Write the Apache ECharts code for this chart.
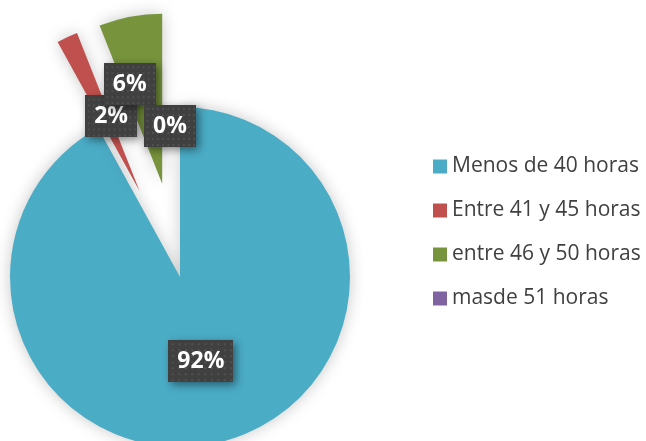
<!DOCTYPE html>
<html><head><meta charset="utf-8">
<script src="https://cdn.jsdelivr.net/npm/echarts@6/dist/echarts.min.js"></script>
<style>html,body{margin:0;padding:0;background:#fff}#c{width:646px;height:441px}</style>
</head><body><div id="c"></div>
<script>
const categories = ['Menos de 40 horas', 'Entre 41 y 45 horas', 'entre 46 y 50 horas', 'masde 51 horas'];
const values = [92, 2, 6, 0];
const colors = ['#4BACC6', '#C0504D', '#77933C', '#8064A2'];
const exploded = [false, true, true, true];
const labelShift = [[-1, -1], [9, 5], [-16, -13], [-10, 32]];

// dotted texture for the label boxes
const tex = document.createElement('canvas');
tex.width = 60; tex.height = 42;
const g = tex.getContext('2d');
g.fillStyle = '#404040'; g.fillRect(0, 0, 60, 42);
g.fillStyle = '#515151';
for (let y = 3; y < 42; y += 6) for (let x = 3; x < 60; x += 6) g.fillRect(x, y, 2, 2);

const chart = echarts.init(document.getElementById('c'));
chart.setOption({
  backgroundColor: '#ffffff',
  animation: false,
  color: colors,
  legend: {
    orient: 'vertical',
    left: 433,
    top: 156,
    padding: 0,
    itemWidth: 14,
    itemHeight: 14,
    itemGap: 23,
    icon: 'rect',
    textStyle: { color: '#404040', fontSize: 21, fontFamily: 'Open Sans' },
    data: categories
  },
  series: [{
    type: 'pie',
    center: [180, 277],
    radius: 170,
    startAngle: 90,
    clockwise: true,
    selectedMode: 'multiple',
    selectedOffset: 95,
    avoidLabelOverlap: false,
    minShowLabelAngle: 0,
    itemStyle: { shadowBlur: 16, shadowColor: 'rgba(0,0,0,0.22)' },
    label: {
      show: true,
      position: 'inside',
      formatter: p => Math.round(p.percent) + '%',
      color: '#ffffff',
      fontSize: 23,
      fontWeight: 'bold',
      fontFamily: 'Open Sans',
      backgroundColor: { image: tex },
      padding: [10, 9, 9, 9],
      shadowBlur: 8,
      shadowColor: 'rgba(0,0,0,0.45)',
      shadowOffsetX: 3,
      shadowOffsetY: 3
    },
    labelLine: { show: false },
    labelLayout: p => ({ dx: labelShift[p.dataIndex][0], dy: labelShift[p.dataIndex][1], hideOverlap: false, moveOverlap: null }),
    data: categories.map((c, i) => ({ name: c, value: values[i], selected: exploded[i] }))
  }]
});
</script></body></html>
